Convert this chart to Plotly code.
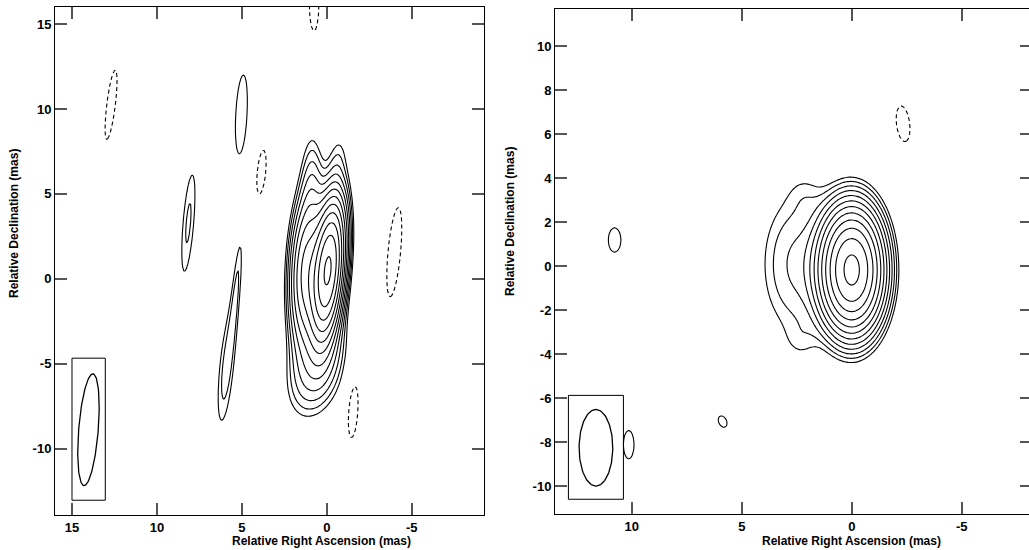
import numpy as np
import plotly.graph_objects as go

# ---------------- Left map ----------------
# emission components read from the map: position (mas), peak (in units of lowest contour),
# FWHM major / minor (mas), position angle (deg, N through E)
L_x    = [-0.07, 1.25, 0.85, -0.65, 0.55,   0.75, 12.70, 5.03, 3.85, 8.15, 5.95, 5.30, -3.97, -1.55]
L_y    = [ 0.50, 0.30, 5.00,  7.20, -5.20, 16.20, 10.25, 9.68, 6.28, 3.28, -5.45, -0.40, 1.57, -7.60]
L_amp  = [47.5, 12.0,  2.2,   0.85,  3.1,  -1.4, -1.4,  1.4, -1.4, 1.52, 1.60, 1.30, -1.4, -1.4]
L_maj  = [ 5.4,  6.0,  5.5,   3.0,   4.5,   4.6,  5.9,  6.66, 3.7,  7.3,  6.9,  6.5,  7.55, 5.05]
L_min  = [1.20,  1.3,  1.06,  1.0,   2.4,   0.8,  0.72, 0.95, 0.72, 0.80, 0.90, 0.50, 1.06, 0.85]
L_pa   = [-5.0, -2.0,  0.0,  -5.0, -15.0,   0.0, -7.0, -3.0, -5.5, -4.7, -5.0, -5.0, -5.3, -3.3]
L_nlev = 12
L_beam = dict(x=14.03, y=-8.88, maj=6.6, min=1.15, pa=-4.6)
L_box  = dict(x0=15.0, x1=13.04, y0=-4.67, y1=-13.03)
L_xticks = [15, 10, 5, 0, -5]
L_yticks = [15, 10, 5, 0, -5, -10]

# ---------------- Right map ----------------
R_x    = [0.00, 2.55, 2.55, 2.10, 2.30, 10.78, 5.87, 10.14, -2.33]
R_y    = [-0.16, 0.80, -0.60, 3.30, -3.40, 1.20, -7.05, -8.10, 6.48]
R_amp  = [50.0, 1.1, 1.1, 0.5, 0.55, 1.4, 1.4, 1.4, -1.4]
R_maj  = [3.53, 5.2, 5.2, 1.6, 1.6, 1.58, 0.78, 1.84, 2.33]
R_min  = [1.80, 2.7, 2.7, 1.3, 1.3, 0.82, 0.52, 0.69, 0.86]
R_pa   = [0.0, 0.0, 0.0, 0.0, 0.0, 0.0, 25.0, 0.0, 7.0]
R_nlev = 12
R_beam = dict(x=11.63, y=-8.24, maj=3.48, min=1.53, pa=0.0)
R_box  = dict(x0=12.88, x1=10.38, y0=-5.86, y1=-10.58)
R_xticks = [10, 5, 0, -5]
R_yticks = [10, 8, 6, 4, 2, 0, -2, -4, -6, -8, -10]

LEV_RATIO = np.sqrt(2.0)


def brightness(X, Y, xs, ys, amps, majs, mins, pas):
    Z = np.zeros_like(X)
    for x0, y0, a, bmaj, bmin, pa in zip(xs, ys, amps, majs, mins, pas):
        th = np.deg2rad(pa)
        dx, dy = X - x0, Y - y0
        u = dx * np.sin(th) + dy * np.cos(th)
        v = dx * np.cos(th) - dy * np.sin(th)
        sm, sn = bmaj / 2.3548, bmin / 2.3548
        Z += a * np.exp(-0.5 * (u ** 2 / sm ** 2 + v ** 2 / sn ** 2))
    return Z


def ellipse(b, n=120):
    t = np.linspace(0, 2 * np.pi, n)
    a, c = b["maj"] / 2, b["min"] / 2
    th = np.deg2rad(b["pa"])
    u, v = a * np.cos(t), c * np.sin(t)
    ex = b["x"] + u * np.sin(th) + v * np.cos(th)
    ey = b["y"] + u * np.cos(th) - v * np.sin(th)
    return ex, ey


fig = go.Figure()
black = [[0, "black"], [1, "black"]]


def add_map(xs_rng, ys_rng, step, comps, nlev, xa, ya, beam, box):
    gx = np.arange(xs_rng[0], xs_rng[1], step)
    gy = np.arange(ys_rng[0], ys_rng[1], step)
    X, Y = np.meshgrid(gx, gy)
    Z = brightness(X, Y, *comps)
    zp = np.round(np.log(np.clip(Z, 1e-3, None)), 3)
    zn = np.round(np.log(np.clip(-Z, 1e-3, None)), 3)
    lstep = np.log(LEV_RATIO)
    fig.add_trace(go.Contour(x=gx, y=gy, z=zp, xaxis=xa, yaxis=ya,
                             contours=dict(start=0.0, end=lstep * (nlev - 1) + 1e-6, size=lstep,
                                           coloring="lines"),
                             colorscale=black, showscale=False, hoverinfo="skip",
                             line=dict(width=1.1, smoothing=1.0)))
    fig.add_trace(go.Contour(x=gx, y=gy, z=zn, xaxis=xa, yaxis=ya,
                             contours=dict(start=0.0, end=0.0, size=1.0, coloring="lines"),
                             colorscale=black, showscale=False, hoverinfo="skip",
                             line=dict(width=1.1, dash="4px,3px", smoothing=1.0)))
    ex, ey = ellipse(beam)
    fig.add_trace(go.Scatter(x=ex, y=ey, mode="lines", xaxis=xa, yaxis=ya,
                             line=dict(color="black", width=1.3), hoverinfo="skip", showlegend=False))
    fig.add_shape(type="rect", xref=xa, yref=ya, x0=box["x0"], x1=box["x1"], y0=box["y0"], y1=box["y1"],
                  line=dict(color="black", width=1))


add_map((-9.5, 16.3), (-14.2, 16.6), 0.08, (L_x, L_y, L_amp, L_maj, L_min, L_pa), L_nlev, "x", "y", L_beam, L_box)
add_map((-8.5, 13.7), (-11.5, 12.0), 0.07, (R_x, R_y, R_amp, R_maj, R_min, R_pa), R_nlev, "x2", "y2", R_beam, R_box)

W, H = 1035, 550
tickfont = dict(family="Liberation Sans", size=13, color="black", weight="bold")
axcommon = dict(showgrid=False, zeroline=False, showline=True, linecolor="black", linewidth=1,
                mirror="ticks", ticks="inside", ticklen=12, tickwidth=1.5, tickcolor="#555",
                tickfont=tickfont)

fig.update_layout(
    width=W, height=H, margin=dict(l=0, r=0, t=0, b=0),
    paper_bgcolor="white", plot_bgcolor="white", showlegend=False,
    xaxis=dict(domain=[55 / W, 484 / W], range=[16.0, -9.25], anchor="y",
               tickvals=L_xticks, ticktext=[str(v) for v in L_xticks], **axcommon),
    yaxis=dict(domain=[1 - 515 / H, 1 - 7 / H], range=[-13.9, 16.0], anchor="x",
               tickvals=L_yticks, ticktext=[str(v) for v in L_yticks], **axcommon),
    xaxis2=dict(domain=[555 / W, 1032 / W], range=[13.49, -8.19], anchor="y2",
                tickvals=R_xticks, ticktext=[str(v) for v in R_xticks], **axcommon),
    yaxis2=dict(domain=[1 - 514 / H, 1 - 8.5 / H], range=[-11.25, 11.72], anchor="x2",
                tickvals=R_yticks, ticktext=[str(v) for v in R_yticks], **axcommon),
)

titlefont = dict(family="Liberation Sans", size=12, color="black", weight="bold")
ann = [
    dict(text="Relative Right Ascension (mas)", x=321.7 / W, y=1 - 541 / H),
    dict(text="Relative Right Ascension (mas)", x=851.7 / W, y=1 - 541 / H),
    dict(text="Relative Declination (mas)", x=14 / W, y=1 - 224 / H, textangle=-90),
    dict(text="Relative Declination (mas)", x=510 / W, y=1 - 222 / H, textangle=-90),
]
for a in ann:
    fig.add_annotation(xref="paper", yref="paper", showarrow=False, xanchor="center", yanchor="middle",
                       font=titlefont, **a)

fig.write_html("out.html", config={"displayModeBar": False},
               post_script="document.body.style.margin='0';document.body.style.overflow='hidden';")
